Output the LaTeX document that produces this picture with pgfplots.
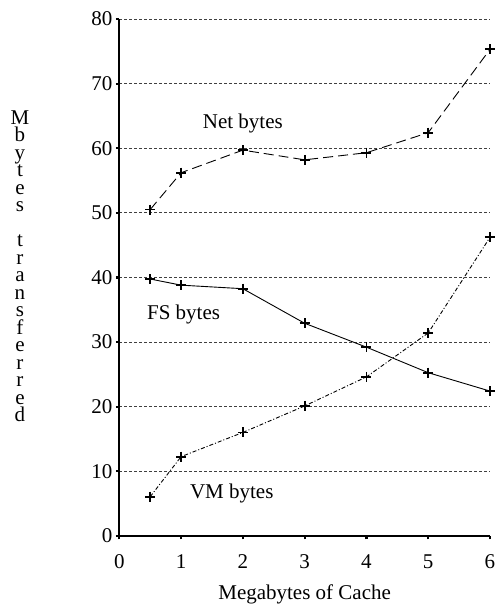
\documentclass[border=0pt]{standalone}
\usepackage{pgfplots}
\pgfplotsset{compat=1.18}
\usepackage{fontspec}
\setmainfont{Liberation Serif}
\begin{document}
\begin{tikzpicture}[font=\fontsize{21}{25}\selectfont]
\begin{axis}[
  at={(0pt,0pt)}, anchor=south west,
  scale only axis, width=370.7pt, height=516.8pt,
  xmin=0, xmax=6, ymin=0, ymax=80,
  xtick={0,1,2,3,4,5,6}, ytick={0,10,20,30,40,50,60,70,80},
  axis lines*=left,
  axis line style={line width=2.4pt},
  tick align=outside,
  major tick length=3.5pt,
  tick style={line width=2.2pt, black},
  /pgf/number format/assume math mode=true,
  tick label style={font=\fontsize{21}{25}\selectfont},
  xticklabel style={yshift=-12pt},
  ymajorgrids,
  major grid style={dash pattern=on 3pt off 2pt, black!75, line width=0.8pt},
  clip=false,
  xlabel={Megabytes of Cache},
  xlabel style={font=\fontsize{21}{25}\selectfont, yshift=-9pt},
  ylabel={M\\b\\y\\t\\e\\s\\\mbox{}\\t\\r\\a\\n\\s\\f\\e\\r\\r\\e\\d},
  ylabel style={at={(axis description cs:-0.268,0.522)}, rotate=-90, anchor=center, align=center,
    font=\fontsize{21}{17.5}\selectfont},
]
\addplot[black, line width=0.9pt, dash pattern=on 10pt off 5pt, mark=+, mark size=5pt, mark options={solid, line width=1.8pt}]
  coordinates {(0.5,50.5) (1,56.2) (2,59.7) (3,58.2) (4,59.3) (5,62.4) (6,75.3)};
\addplot[black, line width=0.9pt, mark=+, mark size=5pt, mark options={solid, line width=1.8pt}]
  coordinates {(0.5,39.75) (1,38.8) (2,38.25) (3,32.9) (4,29.2) (5,25.25) (6,22.4)};
\addplot[black, line width=0.9pt, dash pattern=on 4pt off 2pt on 1pt off 2pt, mark=+, mark size=5pt, mark options={solid, line width=1.8pt}]
  coordinates {(0.5,6.05) (1,12.25) (2,16.0) (3,20.1) (4,24.6) (5,31.4) (6,46.2)};
\node at (axis cs:2.0,63.9) {Net bytes};
\node at (axis cs:1.04,34.3) {FS bytes};
\node at (axis cs:1.82,6.6) {VM bytes};
\end{axis}
\pgfresetboundingbox
\path[use as bounding box] (-119.3pt,-70.2pt) rectangle (375.7pt,535.8pt);
\end{tikzpicture}
\end{document}
